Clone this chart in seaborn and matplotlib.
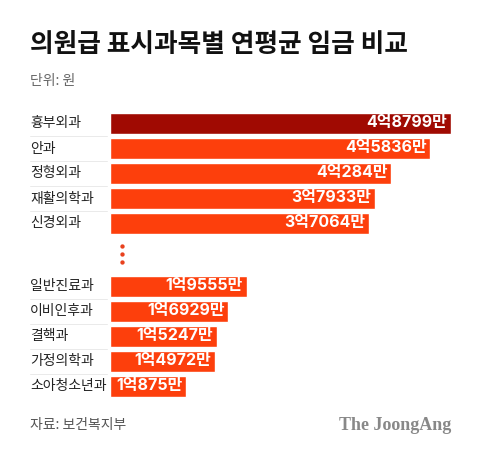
import matplotlib
matplotlib.use("Agg")
import matplotlib.pyplot as plt
import seaborn as sns
import pandas as pd

# 상위 5개 / 하위 5개 과목, 단위: 만원
top_names = ["흉부외과", "안과", "정형외과", "재활의학과", "신경외과"]
top_values = [48799, 45836, 40284, 37933, 37064]
bottom_names = ["일반진료과", "이비인후과", "결핵과", "가정의학과", "소아청소년과"]
bottom_values = [19555, 16929, 15247, 14972, 10875]

title = "의원급 표시과목별 연평균 임금 비교"
unit_text = "단위: 원"
source_text = "자료: 보건복지부"
logo_text = "The JoongAng"

sns.set_theme(style="white")
plt.rcParams["font.family"] = ["Noto Sans CJK KR", "DejaVu Sans"]

RED = "#fd3f0c"
DARK = "#a00a02"
GAP = 1.5  # extra rows between the two groups

names = top_names + bottom_names
values = top_values + bottom_values
pos = list(range(len(top_names))) + [len(top_names) + GAP + i for i in range(len(bottom_names))]
df = pd.DataFrame({"name": names, "value": values, "pos": pos})
df["hl"] = ["top"] + ["rest"] * (len(df) - 1)


def fmt(v):
    eok, man = divmod(v, 10000)
    return f"{eok}억{man}만"


W, H = 480, 453
fig = plt.figure(figsize=(W / 100, H / 100), dpi=100)
fig.patch.set_facecolor("white")

# axes in pixel terms: bars start at x=110, 341px for the max value
px_per = 341 / max(values)
x_max = 360 / px_per
y_top, pitch = 111, 25
n_slots = pos[-1] + 1
ax = fig.add_axes([110 / W, 1 - (y_top + n_slots * pitch) / H, 360 / W, n_slots * pitch / H])

sns.barplot(data=df, x="value", y="pos", hue="hl", palette={"top": DARK, "rest": RED},
            orient="h", native_scale=True, width=0.84, legend=False, ax=ax, saturation=1)
ax.set_xlim(0, x_max)
ax.set_ylim(n_slots - 0.5, -0.5)
ax.axis("off")

for _, r in df.iterrows():
    # Inter has proportional figures, closer to the original lettering
    ax.annotate(fmt(r["value"]), (r["value"], r["pos"]), xytext=(-2.5, 0.5),
                textcoords="offset points", ha="right", va="center",
                color="white", fontsize=11.5, fontweight="bold",
                family=["Inter", "Noto Sans CJK KR"])
    ax.text(-80 / 360 * x_max, r["pos"], r["name"], ha="left", va="center",
            fontsize=10, color="#222222")

# separators in the label column
for group in (df["pos"][:5].tolist(), df["pos"][5:].tolist()):
    for a, b in zip(group[:-1], group[1:]):
        y = (a + b) / 2
        ax.plot([-80 / 360 * x_max, -3 / 360 * x_max], [y, y], color="#e6e6e6",
                lw=0.6, clip_on=False)

# ellipsis dots between the groups
ax.scatter([12 / px_per] * 3, [4.9, 5.22, 5.54], s=4.5, color="#e8401c", clip_on=False, zorder=3)

fig.text(30 / W, 1 - 44 / H, title, fontsize=18.5, fontweight="bold", color="#111111", va="center")
fig.text(30 / W, 1 - 81 / H, unit_text, fontsize=10, color="#666666", va="center")
fig.text(30 / W, 1 - 425 / H, source_text, fontsize=10, color="#555555", va="center")
fig.text(451 / W, 1 - 425 / H, logo_text, fontsize=13, fontweight="bold", color="#888888",
         va="center", ha="right", family=["Liberation Serif", "DejaVu Serif"])

fig.savefig("out.png", dpi=100, facecolor="white")
